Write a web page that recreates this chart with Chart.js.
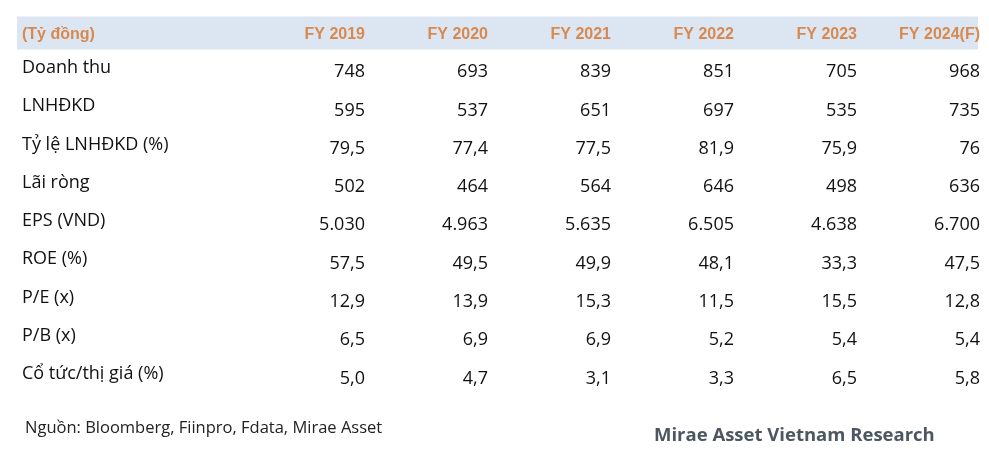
<!DOCTYPE html>
<html>
<head>
<meta charset="utf-8">
<script src="https://cdn.jsdelivr.net/npm/chart.js@4/dist/chart.umd.min.js"></script>
<style>
  html, body { margin: 0; padding: 0; background: #fff; }
  #wrap { width: 989px; height: 452px; position: relative; }
</style>
</head>
<body>
<div id="wrap"><canvas id="tableChart"></canvas></div>
<script>
// header / row labels
const unitLabel = "(Tỷ đồng)";
const years = ["FY 2019", "FY 2020", "FY 2021", "FY 2022", "FY 2023", "FY 2024(F)"];
const rowLabels = [
  "Doanh thu",
  "LNHĐKD",
  "Tỷ lệ LNHĐKD (%)",
  "Lãi ròng",
  "EPS (VND)",
  "ROE (%)",
  "P/E (x)",
  "P/B (x)",
  "Cổ tức/thị giá (%)",
];

// values, one array per row
const doanhThu = [748, 693, 839, 851, 705, 968];
const lnhdkd = [595, 537, 651, 697, 535, 735];
const tyLeLnhdkd = [79.5, 77.4, 77.5, 81.9, 75.9, 76];
const laiRong = [502, 464, 564, 646, 498, 636];
const eps = [5030, 4963, 5635, 6505, 4638, 6700];
const roe = [57.5, 49.5, 49.9, 48.1, 33.3, 47.5];
const pe = [12.9, 13.9, 15.3, 11.5, 15.5, 12.8];
const pb = [6.5, 6.9, 6.9, 5.2, 5.4, 5.4];
const coTuc = [5.0, 4.7, 3.1, 3.3, 6.5, 5.8];

const rows = [doanhThu, lnhdkd, tyLeLnhdkd, laiRong, eps, roe, pe, pb, coTuc];
// min / max decimals shown per row
const minDec = [0, 0, 0, 0, 0, 1, 1, 1, 1];
const maxDec = [0, 0, 1, 0, 0, 1, 1, 1, 1];

const sourceNote = "Nguồn: Bloomberg, Fiinpro, Fdata, Mirae Asset";
const brand = "Mirae Asset Vietnam Research";

// vietnamese number format: "." thousands, "," decimals
function fmt(v, lo, hi) {
  let s = v.toFixed(hi);
  if (hi > lo) {
    while (s.includes(".") && s.endsWith("0") && s.split(".")[1].length > lo) s = s.slice(0, -1);
    if (s.endsWith(".")) s = s.slice(0, -1);
  }
  let [intPart, dec] = s.split(".");
  intPart = intPart.replace(/\B(?=(\d{3})+(?!\d))/g, ".");
  return dec ? intPart + "," + dec : intPart;
}

const BODY_FONT = '18px "Open Sans"';
const HEAD_FONT = 'bold 16px "Liberation Sans"';

const tablePlugin = {
  id: "tableText",
  beforeDatasetsDraw(chart) {
    const { ctx, scales } = chart;
    const yTop = scales.y.getPixelForValue(-0.43);
    const yBot = scales.y.getPixelForValue(0.43);
    ctx.save();
    ctx.fillStyle = "#dce6f2";
    ctx.fillRect(17, yTop, 961, yBot - yTop);
    ctx.restore();
  },
  afterDatasetsDraw(chart) {
    const { ctx, scales } = chart;
    ctx.save();
    ctx.textBaseline = "alphabetic";

    // header row
    const hy = scales.y.getPixelForValue(0) + 5.8;
    ctx.font = HEAD_FONT;
    ctx.fillStyle = "#d8894f";
    ctx.textAlign = "left";
    ctx.fillText(unitLabel, 22, hy);
    ctx.textAlign = "right";
    years.forEach((yr, i) => {
      ctx.fillText(yr, scales.x.getPixelForValue(i + 1), hy);
    });

    // body rows
    ctx.font = BODY_FONT;
    ctx.fillStyle = "#111";
    chart.data.datasets.forEach((ds, r) => {
      const meta = chart.getDatasetMeta(r);
      ctx.textAlign = "left";
      ctx.fillText(ds.label, 22, meta.data[0].y + 1.8);
      ctx.textAlign = "right";
      meta.data.forEach((pt, c) => {
        ctx.fillText(fmt(rows[r][c], minDec[r], maxDec[r]), pt.x, pt.y + 6);
      });
    });

    // footer
    ctx.textAlign = "left";
    ctx.font = '16.5px "Open Sans"';
    ctx.fillStyle = "#222";
    ctx.fillText(sourceNote, 25, 433);
    ctx.font = 'bold 18.5px "Open Sans"';
    ctx.fillStyle = "#4d5761";
    ctx.fillText(brand, 654, 441);
    ctx.restore();
  },
};

const ctxEl = document.getElementById("tableChart");
new Chart(ctxEl, {
  type: "scatter",
  data: {
    datasets: rowLabels.map((label, r) => ({
      label: label,
      data: rows[r].map((v, c) => ({ x: c + 1, y: r + 1 })),
      pointRadius: 0,
      pointHoverRadius: 0,
    })),
  },
  options: {
    responsive: true,
    maintainAspectRatio: false,
    animation: false,
    events: [],
    layout: { padding: { left: 242, right: 9, top: 33, bottom: 74.5 } },
    plugins: { legend: { display: false }, tooltip: { enabled: false } },
    scales: {
      x: { type: "linear", min: 0, max: 6, display: false },
      y: { type: "linear", min: 0, max: 9, reverse: true, display: false },
    },
  },
  plugins: [tablePlugin],
});
</script>
</body>
</html>
